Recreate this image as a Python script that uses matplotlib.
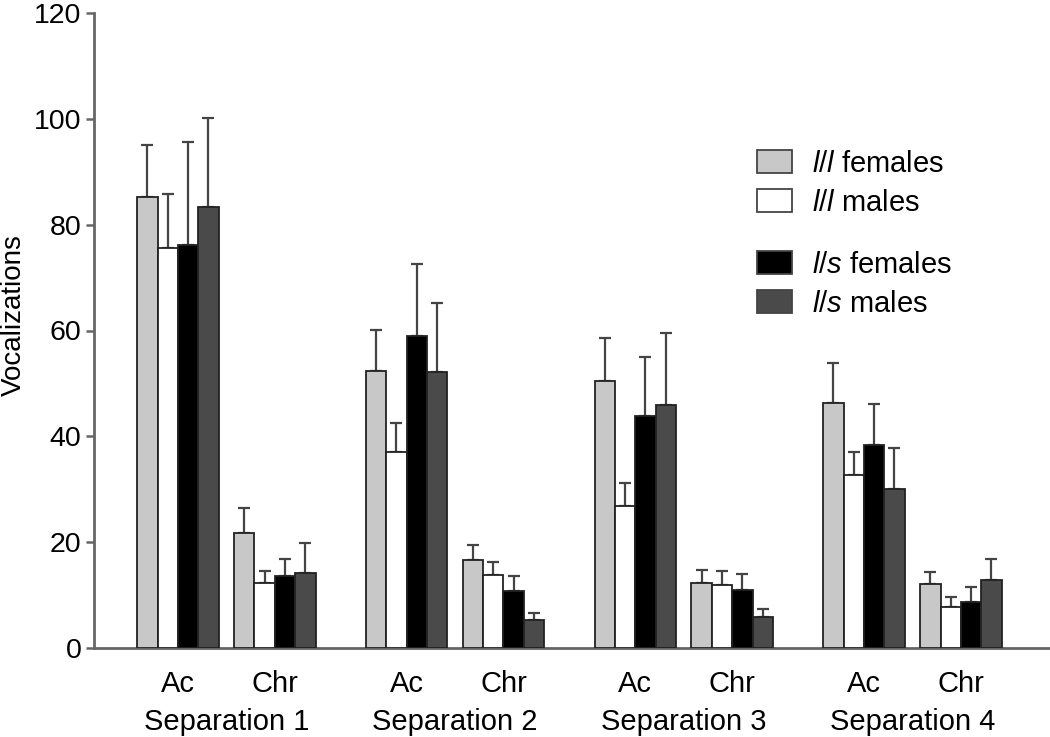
import matplotlib.pyplot as plt
from matplotlib.patches import Patch
import numpy as np

plt.rcParams['font.family'] = ['Liberation Sans', 'DejaVu Sans']
plt.rcParams['mathtext.fontset'] = 'custom'
plt.rcParams['mathtext.it'] = 'Liberation Sans:italic'
plt.rcParams['mathtext.rm'] = 'Liberation Sans'

separations = ['Separation 1', 'Separation 2', 'Separation 3', 'Separation 4']
conditions = ['Ac', 'Chr']
groups = [r'$\mathit{l/l}$ females', r'$\mathit{l/l}$ males',
          r'$\mathit{l/s}$ females', r'$\mathit{l/s}$ males']

# means per group, order: S1 Ac, S1 Chr, S2 Ac, S2 Chr, S3 Ac, S3 Chr, S4 Ac, S4 Chr
ll_females = [85.2, 21.8, 52.4, 16.6, 50.5, 12.3, 46.3, 12.1]
ll_males = [75.6, 12.3, 37.0, 13.8, 26.8, 11.9, 32.7, 7.8]
ls_females = [76.2, 13.6, 59.0, 10.8, 43.9, 11.0, 38.4, 8.7]
ls_males = [83.3, 14.2, 52.2, 5.3, 45.9, 5.9, 30.1, 12.9]

# upper error (SEM)
ll_females_err = [9.9, 4.7, 7.7, 2.9, 8.1, 2.4, 7.6, 2.3]
ll_males_err = [10.2, 2.3, 5.6, 2.5, 4.4, 2.7, 4.4, 1.8]
ls_females_err = [19.5, 3.2, 13.6, 2.8, 11.1, 3.0, 7.7, 2.9]
ls_males_err = [16.9, 5.7, 13.0, 1.3, 13.6, 1.4, 7.7, 3.9]

means = [ll_females, ll_males, ls_females, ls_males]
errs = [ll_females_err, ll_males_err, ls_females_err, ls_males_err]
colors = ['#c8c8c8', '#ffffff', '#000000', '#4a4a4a']

fig = plt.figure(figsize=(10.5, 7.37), dpi=100)
ax = fig.add_axes([94 / 1050, 89 / 737, 1 - 94 / 1050, (648 - 13) / 737])

sep_step = 2.36
width = 0.21
centers = []
for s in range(len(separations)):
    for c in range(len(conditions)):
        centers.append(s * sep_step + c)
centers = np.array(centers)

for g in range(4):
    x = centers + (g - 1.5) * width
    ax.bar(x, means[g], width=width, color=colors[g], edgecolor='#222222',
           linewidth=1.3, zorder=3)
    ax.errorbar(x, means[g], yerr=[np.zeros(len(errs[g])), errs[g]], fmt='none',
                ecolor='#444444', elinewidth=1.6, capsize=4, capthick=1.6, zorder=2)

ax.set_xlim(-0.866, centers[-1] + 0.92)
ax.set_ylim(0, 120)
ax.set_yticks(np.arange(0, 121, 20))
ax.set_xticks(centers)
ax.set_xticklabels(conditions * len(separations), fontsize=21)
ax.tick_params(axis='x', length=0, pad=16)
ax.tick_params(axis='y', length=6, width=1.8, color='#666666', labelsize=20.5, pad=3)
for side in ['top', 'right']:
    ax.spines[side].set_visible(False)
for side in ['left', 'bottom']:
    ax.spines[side].set_linewidth(2)
    ax.spines[side].set_color('#666666')

for s, name in enumerate(separations):
    ax.text(s * sep_step + 0.5, -0.1165, name, transform=ax.get_xaxis_transform(),
            ha='center', va='center', fontsize=21)

ax.set_ylabel('Vocalizations', fontsize=20)
ax.yaxis.set_label_coords((27 - 94) / 956, 0.524)

handles = [Patch(facecolor=colors[g], edgecolor='#444444', linewidth=1.3) for g in range(4)]
leg_kw = dict(loc='center left', frameon=False, fontsize=21, handlelength=1.2,
              handleheight=0.8, labelspacing=0.37, handletextpad=0.7, borderpad=0,
              borderaxespad=0)
leg1 = ax.legend(handles[:2], groups[:2], bbox_to_anchor=(0.6935, 0.732), **leg_kw)
ax.add_artist(leg1)
ax.legend(handles[2:], groups[2:], bbox_to_anchor=(0.6935, 0.573), **leg_kw)

plt.savefig('out.png', dpi=100)
